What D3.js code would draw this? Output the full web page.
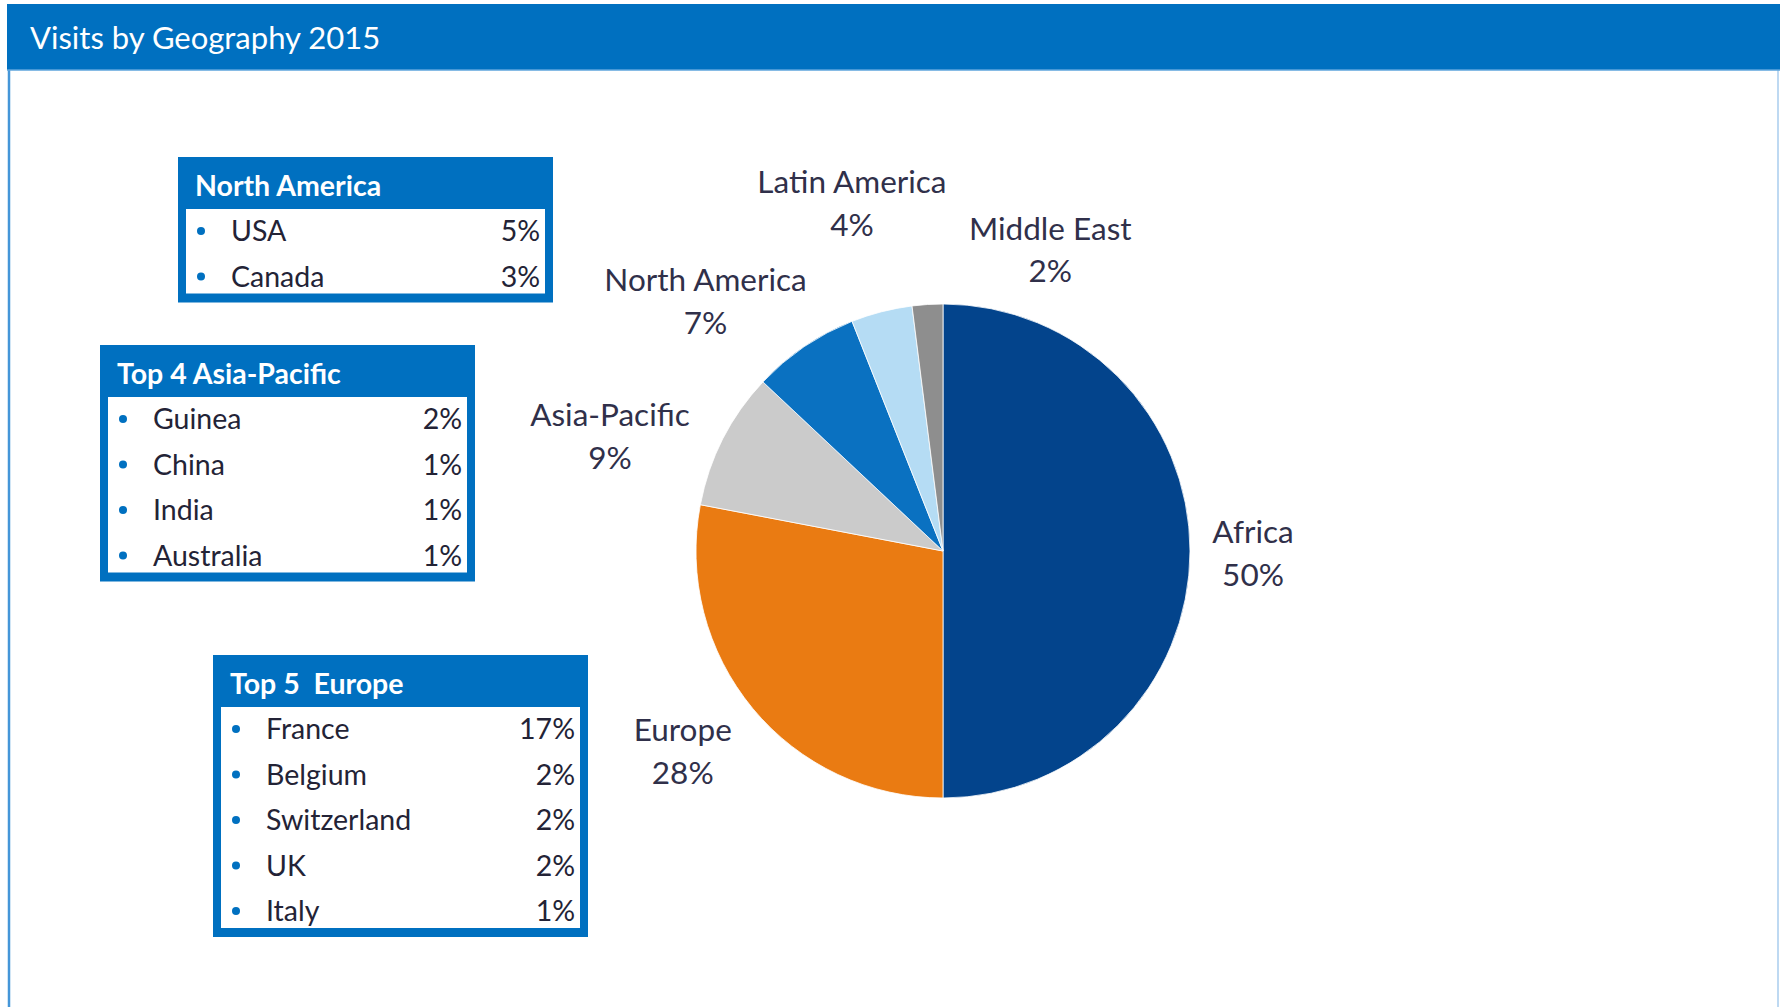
<!DOCTYPE html>
<html>
<head>
<meta charset="utf-8">
<script src="https://cdn.jsdelivr.net/npm/d3@7"></script>
<style>
  html, body { margin: 0; padding: 0; background: #ffffff; }
  svg { display: block; font-family: Lato, "Open Sans", sans-serif; }
  text { white-space: pre; }
</style>
</head>
<body>
<svg id="chart" width="1780" height="1007"></svg>
<script>
// Pie data
const regions = ["Africa", "Europe", "Asia-Pacific", "North America", "Latin America", "Middle East"];
const regionShares = [50, 28, 9, 7, 4, 2];
const regionColors = ["#03448c", "#ea7b12", "#cbcbcb", "#0a71c1", "#b5dcf4", "#8e8e8e"];

// Detail boxes
const northAmericaCountries = ["USA", "Canada"];
const northAmericaShares = [5, 3];
const asiaPacificCountries = ["Guinea", "China", "India", "Australia"];
const asiaPacificShares = [2, 1, 1, 1];
const europeCountries = ["France", "Belgium", "Switzerland", "UK", "Italy"];
const europeShares = [17, 2, 2, 2, 1];

const width = 1780, height = 1007;
const blue = "#0070c0";
const textColor = "#232336";

const svg = d3.select("#chart");

// panel + header
svg.append("rect").attr("width", width).attr("height", height).attr("fill", "#fff");
svg.append("line")
  .attr("x1", 9).attr("x2", 9).attr("y1", 4).attr("y2", height)
  .attr("stroke", "#4596d8").attr("stroke-width", 2.5);
svg.append("line")
  .attr("x1", 1778).attr("x2", 1778).attr("y1", 4).attr("y2", height)
  .attr("stroke", "#a9cdee").attr("stroke-width", 1.5);
svg.append("rect")
  .attr("x", 7).attr("y", 4).attr("width", width - 7).attr("height", 66)
  .attr("fill", blue);
svg.append("line")
  .attr("x1", 7).attr("x2", width).attr("y1", 70).attr("y2", 70)
  .attr("stroke", "#5ea5dd").attr("stroke-width", 1.5);
svg.append("text")
  .attr("x", 30).attr("y", 49)
  .attr("fill", "#fff")
  .style("font-size", "31px")
  .text("Visits by Geography 2015");

// ---- pie ----
const cx = 943, cy = 551, radius = 247;
const pie = d3.pie().value(d => d.value).sort(null);
const arc = d3.arc().innerRadius(0).outerRadius(radius);
const labelArc = d3.arc().innerRadius(330).outerRadius(330);

const pieData = regions.map((r, i) => ({ name: r, value: regionShares[i] }));
const color = d3.scaleOrdinal().domain(regions).range(regionColors);

const g = svg.append("g").attr("transform", `translate(${cx},${cy})`);
const arcs = pie(pieData);

g.selectAll("path.slice")
  .data(arcs)
  .enter()
  .append("path")
  .attr("class", "slice")
  .attr("d", arc)
  .attr("fill", d => color(d.data.name))
  .attr("stroke", "#ffffff")
  .attr("stroke-width", 0.8);

// hand-tuned label offsets (Excel let the labels be dragged around)
const labelNudge = {
  "Africa": [-20, 2],
  "Europe": [-6, -10],
  "Asia-Pacific": [-39, 35],
  "North America": [-52, 23],
  "Latin America": [-9, -28],
  "Middle East": [128, 28]
};

const labels = g.selectAll("text.label")
  .data(arcs)
  .enter()
  .append("text")
  .attr("class", "label")
  .attr("text-anchor", "middle")
  .attr("fill", "#30304a")
  .style("font-size", "31.5px")
  .attr("transform", d => {
    const [x, y] = labelArc.centroid(d);
    const n = labelNudge[d.data.name];
    return `translate(${x + n[0]},${y + n[1]})`;
  });
labels.append("tspan").attr("x", 0).attr("y", -10).text(d => d.data.name);
labels.append("tspan").attr("x", 0).attr("y", 32.5).text(d => d.data.value + "%");

// ---- detail boxes ----
const boxes = [
  { title: "North America", names: northAmericaCountries, values: northAmericaShares, x: 178, y: 157 },
  { title: "Top 4 Asia-Pacific", names: asiaPacificCountries, values: asiaPacificShares, x: 100, y: 345 },
  { title: "Top 5  Europe", names: europeCountries, values: europeShares, x: 213, y: 655 }
];

const boxW = 375, headH = 52, rowStep = 45.5, border = 8;

boxes.forEach(b => {
  const n = b.names.length;
  const h = 100 + (n - 1) * rowStep;
  const bg = svg.append("g").attr("transform", `translate(${b.x},${b.y})`);

  bg.append("rect").attr("width", boxW).attr("height", h).attr("fill", blue);
  bg.append("rect")
    .attr("x", border).attr("y", headH)
    .attr("width", boxW - border * 2).attr("height", h - headH - 9)
    .attr("fill", "#fff");

  bg.append("text")
    .attr("x", 17).attr("y", 39)
    .attr("fill", "#fff")
    .style("font-size", "28.5px")
    .style("font-weight", "700")
    .text(b.title);

  const y = d3.scaleLinear().domain([0, 1]).range([84, 84 + rowStep]);
  const rows = bg.selectAll("g.row")
    .data(b.names.map((name, i) => ({ name, value: b.values[i], i })))
    .enter()
    .append("g")
    .attr("class", "row")
    .attr("transform", d => `translate(0,${y(d.i)})`);

  rows.append("circle")
    .attr("cx", 23).attr("cy", -10).attr("r", 4)
    .attr("fill", blue);
  rows.append("text")
    .attr("x", 53)
    .attr("fill", textColor)
    .style("font-size", "28.5px")
    .text(d => d.name);
  rows.append("text")
    .attr("x", 362)
    .attr("text-anchor", "end")
    .attr("fill", textColor)
    .style("font-size", "28.5px")
    .text(d => d.value + "%");
});
</script>
</body>
</html>
